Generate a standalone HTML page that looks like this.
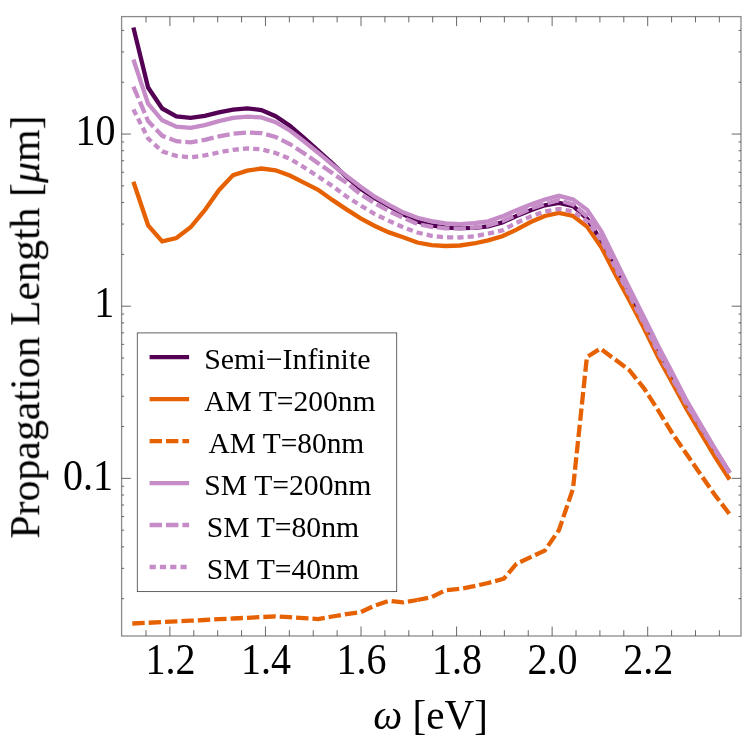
<!DOCTYPE html>
<html><head><meta charset="utf-8"><title>Propagation Length</title>
<style>
html,body{margin:0;padding:0;background:#fff;}
body{width:747px;height:747px;overflow:hidden;}
svg{display:block;font-family:"Liberation Serif",serif;}
.tl,.lg,.al{will-change:transform;}
.tl text{font-size:40px;fill:#000;}
.lg text{font-size:29.5px;fill:#000;}
.al text{font-size:42px;fill:#000;}
</style></head><body>
<svg width="747" height="747" viewBox="0 0 747 747">
<rect width="747" height="747" fill="#fff"/>
<g fill="none" stroke-linejoin="miter" stroke-linecap="butt" stroke-width="4.3">
<path d="M133.4 27.4 L148.1 87.5 L162.2 108.5 L176.4 116.4 L190.6 117.9 L204.8 115.8 L218.9 112.3 L233.1 109.6 L247.3 108.4 L261.4 110.1 L275.6 116.2 L289.8 125.8 L303.9 137.8 L318.1 150.7 L332.3 163.4 L346.5 177.0 L360.6 188.8 L374.8 198.2 L389.0 206.2 L403.1 214.1 L417.3 221.5 L431.5 225.5 L445.6 227.6 L459.8 228.2 L474.0 227.8 L488.1 226.3 L502.3 222.4 L516.5 216.1 L530.7 210.3 L544.8 205.3 L559.0 203.0 L573.2 206.1 L587.3 218.8 L601.5 241.4 L615.7 269.4 L629.9 296.7 L644.0 324.1 L658.2 352.9 L672.4 379.2 L686.5 404.7 L700.7 427.5 L714.9 450.1 L729.6 472.9" stroke="#540054"/>
<path d="M133.4 181.7 L148.1 225.3 L162.2 241.4 L176.4 238.0 L190.6 227.3 L204.8 210.2 L218.9 190.2 L233.1 175.1 L247.3 170.6 L261.4 168.5 L275.6 170.3 L289.8 175.5 L303.9 182.6 L318.1 189.8 L332.3 199.9 L346.5 209.4 L360.6 218.4 L374.8 226.0 L389.0 232.4 L403.1 237.3 L417.3 242.5 L431.5 245.2 L445.6 246.0 L459.8 245.5 L474.0 243.5 L488.1 240.3 L502.3 236.3 L516.5 229.6 L530.7 222.0 L544.8 216.0 L559.0 213.0 L573.2 216.0 L587.3 226.9 L601.5 247.5 L615.7 274.9 L629.9 301.3 L644.0 328.3 L658.2 357.2 L672.4 383.0 L686.5 409.0 L700.7 433.0 L714.9 456.5 L729.6 479.5" stroke="#E66101"/>
<path d="M132.3 623.5 L148.1 622.8 L162.2 622.1 L176.4 621.4 L190.6 620.7 L204.8 620.0 L218.9 619.2 L233.1 618.5 L247.3 617.8 L261.4 617.1 L275.6 616.4 L289.8 617.2 L303.9 618.1 L318.1 619.1 L332.3 616.5 L346.5 614.2 L360.6 612.2 L374.8 605.6 L389.0 600.9 L403.1 602.4 L417.3 600.0" stroke="#E66101" stroke-dasharray="12.4 4.0"/>
<path d="M417.3 600.0 L431.5 597.2 L445.6 590.2 L459.8 588.9 L474.0 586.2 L488.1 583.0 L503.8 578.7 L516.5 563.7 L530.7 557.1 L544.8 550.6 L559.0 530.0 L573.0 488.7 L586.9 357.0 L600.4 348.6 L614.8 359.3 L629.2 370.0 L644.0 388.3 L658.2 410.4 L672.4 433.5 L686.5 454.0 L700.7 474.6 L714.9 495.0 L729.6 514.2" stroke="#E66101" stroke-dasharray="12.4 4.0" stroke-dashoffset="1.33"/>
<path d="M133.4 59.5 L148.1 103.7 L162.2 120.3 L176.4 126.7 L190.6 127.8 L204.8 125.1 L218.9 121.1 L233.1 117.9 L247.3 116.7 L261.4 117.4 L275.6 122.2 L289.8 130.5 L303.9 141.3 L318.1 152.7 L332.3 164.7 L346.5 175.9 L360.6 186.7 L374.8 196.7 L389.0 204.8 L403.1 212.3 L417.3 217.8 L431.5 221.1 L445.6 223.4 L459.8 224.1 L474.0 223.1 L488.1 221.3 L502.3 216.4 L516.5 210.3 L530.7 204.5 L544.8 199.5 L559.0 195.8 L573.2 199.4 L587.3 209.9 L601.5 231.5 L615.7 260.4 L629.9 289.1 L644.0 317.3 L658.2 346.0 L672.4 373.0 L686.5 400.4 L700.7 424.6 L714.9 448.6 L729.6 472.7" stroke="#C58CC8"/>
<path d="M133.4 86.6 L148.1 121.1 L162.2 135.8 L176.4 141.2 L190.6 142.3 L204.8 139.9 L218.9 136.4 L233.1 133.7 L247.3 132.5 L261.4 133.1 L275.6 137.0 L289.8 144.0 L303.9 153.2 L318.1 163.2 L332.3 173.1 L346.5 182.8 L360.6 194.3 L374.8 203.2 L389.0 211.1 L403.1 217.7 L417.3 224.0 L431.5 226.9 L445.6 228.3 L459.8 228.6 L474.0 227.5 L488.1 225.5 L502.3 221.3 L516.5 214.8 L530.7 208.8 L544.8 203.8 L559.0 200.2 L573.2 204.5 L587.3 216.5 L601.5 237.9 L615.7 266.2 L629.9 294.0 L644.0 321.7 L658.2 350.5 L672.4 377.0 L686.5 403.1 L700.7 426.4 L714.9 449.6 L729.6 472.8" stroke="#C58CC8" stroke-dasharray="12.4 4.0"/>
<path d="M133.4 109.4 L148.1 138.5 L162.2 151.4 L176.4 155.9 L190.6 157.3 L204.8 155.4 L218.9 152.4 L233.1 149.8 L247.3 148.4 L261.4 149.3 L275.6 153.0 L289.8 158.7 L303.9 167.2 L318.1 176.5 L332.3 185.9 L346.5 196.5 L360.6 205.5 L374.8 214.0 L389.0 220.9 L403.1 227.3 L417.3 232.5 L431.5 235.8 L445.6 237.3 L459.8 237.5 L474.0 236.3 L488.1 233.7 L502.3 230.4 L516.5 222.8 L530.7 216.5 L544.8 211.4 L559.0 209.0 L573.2 211.5 L587.3 221.5 L601.5 240.3 L615.7 268.4 L629.9 295.8 L644.0 323.4 L658.2 352.2 L672.4 378.5 L686.5 404.2 L700.7 427.1 L714.9 449.9 L729.6 472.9" stroke="#C58CC8" stroke-dasharray="6.2 4.1"/>
</g>
<rect x="121.6" y="16.6" width="619.4" height="619.4" fill="none" stroke="#8a8a8a" stroke-width="1.3"/>
<path d="M146.01 636.00L146.01 630.20M146.01 16.60L146.01 22.40M169.90 636.00L169.90 626.50M169.90 16.60L169.90 26.10M193.79 636.00L193.79 630.20M193.79 16.60L193.79 22.40M217.68 636.00L217.68 630.20M217.68 16.60L217.68 22.40M241.57 636.00L241.57 630.20M241.57 16.60L241.57 22.40M265.46 636.00L265.46 626.50M265.46 16.60L265.46 26.10M289.35 636.00L289.35 630.20M289.35 16.60L289.35 22.40M313.24 636.00L313.24 630.20M313.24 16.60L313.24 22.40M337.13 636.00L337.13 630.20M337.13 16.60L337.13 22.40M361.02 636.00L361.02 626.50M361.02 16.60L361.02 26.10M384.91 636.00L384.91 630.20M384.91 16.60L384.91 22.40M408.80 636.00L408.80 630.20M408.80 16.60L408.80 22.40M432.69 636.00L432.69 630.20M432.69 16.60L432.69 22.40M456.58 636.00L456.58 626.50M456.58 16.60L456.58 26.10M480.47 636.00L480.47 630.20M480.47 16.60L480.47 22.40M504.36 636.00L504.36 630.20M504.36 16.60L504.36 22.40M528.25 636.00L528.25 630.20M528.25 16.60L528.25 22.40M552.14 636.00L552.14 626.50M552.14 16.60L552.14 26.10M576.03 636.00L576.03 630.20M576.03 16.60L576.03 22.40M599.92 636.00L599.92 630.20M599.92 16.60L599.92 22.40M623.81 636.00L623.81 630.20M623.81 16.60L623.81 22.40M647.70 636.00L647.70 626.50M647.70 16.60L647.70 26.10M671.59 636.00L671.59 630.20M671.59 16.60L671.59 22.40M695.48 636.00L695.48 630.20M695.48 16.60L695.48 22.40M719.37 636.00L719.37 630.20M719.37 16.60L719.37 22.40M121.60 598.68L124.10 598.68M741.00 598.68L738.50 598.68M121.60 568.36L124.10 568.36M741.00 568.36L738.50 568.36M121.60 546.86L124.10 546.86M741.00 546.86L738.50 546.86M121.60 530.17L124.10 530.17M741.00 530.17L738.50 530.17M121.60 516.54L124.10 516.54M741.00 516.54L738.50 516.54M121.60 505.02L124.10 505.02M741.00 505.02L738.50 505.02M121.60 495.03L124.10 495.03M741.00 495.03L738.50 495.03M121.60 486.23L124.10 486.23M741.00 486.23L738.50 486.23M121.60 478.35L130.90 478.35M741.00 478.35L731.70 478.35M121.60 426.53L124.10 426.53M741.00 426.53L738.50 426.53M121.60 396.21L124.10 396.21M741.00 396.21L738.50 396.21M121.60 374.71L124.10 374.71M741.00 374.71L738.50 374.71M121.60 358.02L124.10 358.02M741.00 358.02L738.50 358.02M121.60 344.39L124.10 344.39M741.00 344.39L738.50 344.39M121.60 332.87L124.10 332.87M741.00 332.87L738.50 332.87M121.60 322.88L124.10 322.88M741.00 322.88L738.50 322.88M121.60 314.08L124.10 314.08M741.00 314.08L738.50 314.08M121.60 306.20L130.90 306.20M741.00 306.20L731.70 306.20M121.60 254.38L124.10 254.38M741.00 254.38L738.50 254.38M121.60 224.06L124.10 224.06M741.00 224.06L738.50 224.06M121.60 202.56L124.10 202.56M741.00 202.56L738.50 202.56M121.60 185.87L124.10 185.87M741.00 185.87L738.50 185.87M121.60 172.24L124.10 172.24M741.00 172.24L738.50 172.24M121.60 160.72L124.10 160.72M741.00 160.72L738.50 160.72M121.60 150.73L124.10 150.73M741.00 150.73L738.50 150.73M121.60 141.93L124.10 141.93M741.00 141.93L738.50 141.93M121.60 134.05L130.90 134.05M741.00 134.05L731.70 134.05M121.60 82.23L124.10 82.23M741.00 82.23L738.50 82.23M121.60 51.91L124.10 51.91M741.00 51.91L738.50 51.91M121.60 30.41L124.10 30.41M741.00 30.41L738.50 30.41" stroke="#4d4d4d" stroke-width="0.85" fill="none"/>
<rect x="137.3" y="332.9" width="259.4" height="258.7" fill="#fff" stroke="#484848" stroke-width="0.85"/>
<g>
<path d="M149.6 357.1H189.1" stroke="#540054" stroke-width="4.3" fill="none"/>
<path d="M149.6 399.1H189.1" stroke="#E66101" stroke-width="4.3" fill="none"/>
<path d="M149.6 441.1H189.1" stroke="#E66101" stroke-width="4.3" stroke-dasharray="12.4 4.0" fill="none"/>
<path d="M149.6 483.1H189.1" stroke="#C58CC8" stroke-width="4.3" fill="none"/>
<path d="M149.6 525.0H189.1" stroke="#C58CC8" stroke-width="4.3" stroke-dasharray="12.4 4.0" fill="none"/>
<path d="M149.6 567.0H189.1" stroke="#C58CC8" stroke-width="4.3" stroke-dasharray="6.2 4.1" fill="none"/>
</g>
<g class="lg">
<text transform="translate(204.24 369.0) scale(1.0129 1)">Semi&#8722;Infinite</text>
<text transform="translate(204.26 411.0) scale(1.0024 1)">AM T=200nm</text>
<text transform="translate(208.56 453.0) scale(0.9967 1)">AM T=80nm</text>
<text transform="translate(204.36 495.0) scale(1.0066 1)">SM T=200nm</text>
<text transform="translate(206.86 536.9) scale(1.0063 1)">SM T=80nm</text>
<text transform="translate(206.86 578.9) scale(1.0063 1)">SM T=40nm</text>
</g>
<g class="tl">
<text transform="translate(170.4 674.0) scale(1 1.095)" text-anchor="middle">1.2</text><text transform="translate(266.0 674.0) scale(1 1.095)" text-anchor="middle">1.4</text><text transform="translate(361.5 674.0) scale(1 1.095)" text-anchor="middle">1.6</text><text transform="translate(457.1 674.0) scale(1 1.095)" text-anchor="middle">1.8</text><text transform="translate(552.6 674.0) scale(1 1.095)" text-anchor="middle">2.0</text><text transform="translate(648.2 674.0) scale(1 1.095)" text-anchor="middle">2.2</text>
<text transform="translate(75.4 145.2) scale(1 1.095)">10</text><text transform="translate(94.3 317.3) scale(1 1.095)">1</text><text transform="translate(62.9 489.5) scale(1 1.095)">0.1</text>
</g>
<g class="al">
<text transform="translate(373.18 728.6) scale(0.98 1.02)"><tspan font-style="italic">&#969;</tspan> [eV]</text>
<text transform="translate(39.6 538.69) rotate(-90) scale(0.997 1.01)">Propagation Length [<tspan font-style="italic">&#956;</tspan>m]</text>
</g>
</svg>
</body></html>
